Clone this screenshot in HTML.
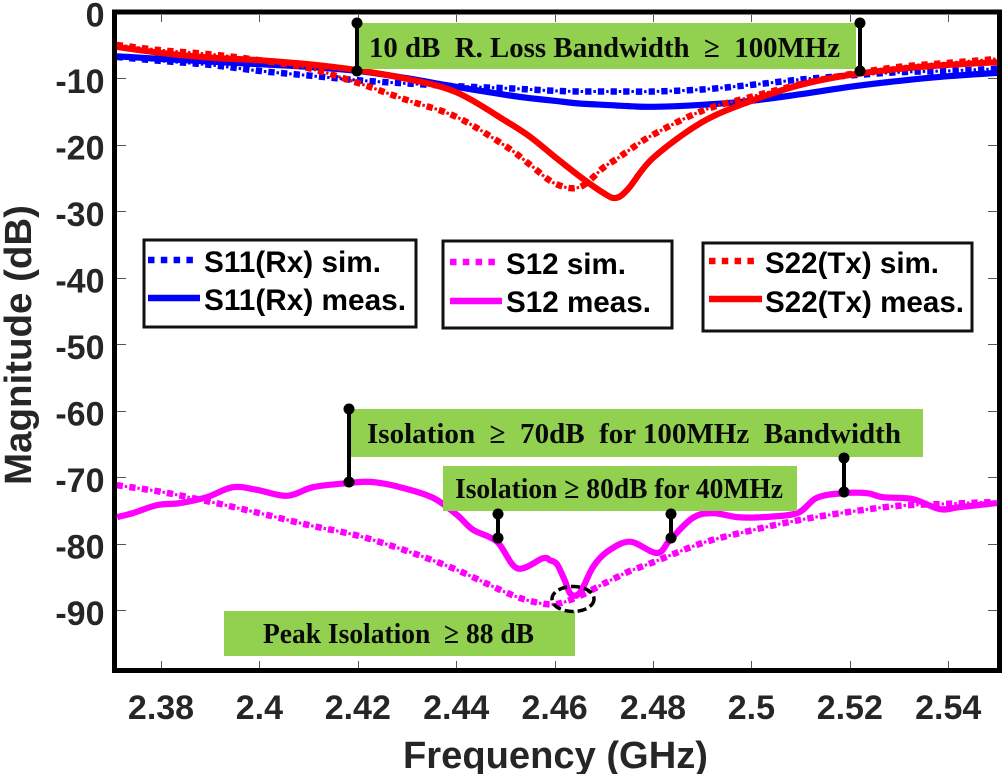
<!DOCTYPE html>
<html lang="en">
<head>
<meta charset="utf-8">
<title>S-parameter magnitude vs frequency</title>
<style>
html,body{margin:0;padding:0;background:#fff;}
body{width:1004px;height:774px;overflow:hidden;}
svg{display:block;}
.ax{font-family:"Liberation Sans",Arial,sans-serif;font-weight:700;fill:#262626;}
.lg{font-family:"Liberation Sans",Arial,sans-serif;font-weight:700;font-size:29.5px;fill:#000;}
.an{font-family:"Liberation Serif","Times New Roman",serif;font-weight:700;font-size:29px;fill:#0a0a0a;white-space:pre;}
</style>
</head>
<body>
<svg id="chart" xmlns="http://www.w3.org/2000/svg" width="1004" height="774" viewBox="0 0 1004 774">
  <defs>
    <clipPath id="plot-clip"><rect x="115" y="12" width="884" height="658"/></clipPath>
  </defs>
  <rect x="114" y="12" width="885" height="658" fill="#fff"/>
  <g id="ticks"></g>
  <g id="series" clip-path="url(#plot-clip)"></g>

  <g>
    <rect x="358" y="23" width="498" height="46" fill="#92d050"/>
    <text class="an" x="369" y="57" textLength="471" lengthAdjust="spacingAndGlyphs" xml:space="preserve">10 dB  R. Loss Bandwidth  ≥  100MHz</text>
  </g>
  <g>
    <rect x="351" y="409" width="572" height="48" fill="#92d050"/>
    <text class="an" x="367" y="443" textLength="534" lengthAdjust="spacingAndGlyphs" xml:space="preserve">Isolation  ≥  70dB  for 100MHz  Bandwidth</text>
  </g>
  <g>
    <rect x="443" y="466" width="354" height="45" fill="#92d050"/>
    <text class="an" x="455" y="498" textLength="328" lengthAdjust="spacingAndGlyphs" xml:space="preserve">Isolation ≥ 80dB for 40MHz</text>
  </g>
  <g>
    <rect x="224" y="611" width="351" height="45" fill="#92d050"/>
    <text class="an" x="263" y="643" textLength="271" lengthAdjust="spacingAndGlyphs" xml:space="preserve">Peak Isolation  ≥ 88 dB</text>
  </g>

  <g stroke="#000" stroke-width="4" fill="#000">
    <g><line x1="357" y1="23" x2="357" y2="71"/><circle cx="357" cy="23" r="5.5" stroke="none"/><circle cx="357" cy="71" r="5.5" stroke="none"/></g>
    <g><line x1="860" y1="23" x2="860" y2="71"/><circle cx="860" cy="23" r="5.5" stroke="none"/><circle cx="860" cy="71" r="5.5" stroke="none"/></g>
    <g><line x1="349" y1="409" x2="349" y2="482"/><circle cx="349" cy="409" r="5.5" stroke="none"/><circle cx="349" cy="482" r="5.5" stroke="none"/></g>
    <g><line x1="844" y1="458" x2="844" y2="492"/><circle cx="844" cy="458" r="5.5" stroke="none"/><circle cx="844" cy="492" r="5.5" stroke="none"/></g>
    <g><line x1="498" y1="514" x2="498" y2="538"/><circle cx="498" cy="514" r="5.5" stroke="none"/><circle cx="498" cy="538" r="5.5" stroke="none"/></g>
    <g><line x1="671" y1="514" x2="671" y2="538"/><circle cx="671" cy="514" r="5.5" stroke="none"/><circle cx="671" cy="538" r="5.5" stroke="none"/></g>
  </g>
  <ellipse cx="573" cy="599" rx="21" ry="12.5" fill="none" stroke="#000" stroke-width="3.5" stroke-dasharray="9 4"/>

  <g>
    <rect x="144" y="240" width="272" height="87" fill="#fff" stroke="#111" stroke-width="3"/>
    <line x1="148" y1="260" x2="193" y2="260" stroke="#0000ff" stroke-width="6.5" stroke-dasharray="6.5 6.3"/>
    <text class="lg" x="204" y="272" textLength="177" lengthAdjust="spacingAndGlyphs">S11(Rx) sim.</text>
    <line x1="148" y1="298" x2="200" y2="298" stroke="#0000ff" stroke-width="6.5"/>
    <text class="lg" x="204" y="310" textLength="202" lengthAdjust="spacingAndGlyphs">S11(Rx) meas.</text>
  </g>
  <g>
    <rect x="443" y="241" width="229" height="87" fill="#fff" stroke="#111" stroke-width="3"/>
    <line x1="450" y1="262" x2="495" y2="262" stroke="#ff00ff" stroke-width="6.5" stroke-dasharray="6.5 6.3"/>
    <text class="lg" x="506" y="274" textLength="120" lengthAdjust="spacingAndGlyphs">S12 sim.</text>
    <line x1="450" y1="301" x2="502" y2="301" stroke="#ff00ff" stroke-width="6.5"/>
    <text class="lg" x="506" y="312" textLength="145" lengthAdjust="spacingAndGlyphs">S12 meas.</text>
  </g>
  <g>
    <rect x="703" y="243" width="269" height="88" fill="#fff" stroke="#111" stroke-width="3"/>
    <line x1="709" y1="261" x2="755" y2="261" stroke="#ff0000" stroke-width="6.5" stroke-dasharray="6.5 6.3"/>
    <text class="lg" x="765" y="273" textLength="174" lengthAdjust="spacingAndGlyphs">S22(Tx) sim.</text>
    <line x1="709" y1="299" x2="762" y2="299" stroke="#ff0000" stroke-width="6.5"/>
    <text class="lg" x="765" y="312" textLength="199" lengthAdjust="spacingAndGlyphs">S22(Tx) meas.</text>
  </g>

  <rect x="114.5" y="12" width="885" height="658.5" fill="none" stroke="#000" stroke-width="5"/>
  <g id="tick-labels"></g>
  <text class="ax" x="403" y="768" font-size="38" textLength="305" lengthAdjust="spacingAndGlyphs">Frequency (GHz)</text>
  <text class="ax" transform="translate(31,485) rotate(-90)" font-size="38" textLength="280" lengthAdjust="spacingAndGlyphs">Magnitude (dB)</text>
</svg>
<script>
const xTickValues = [2.38, 2.4, 2.42, 2.44, 2.46, 2.48, 2.5, 2.52, 2.54];
const yTickValues = [0, -10, -20, -30, -40, -50, -60, -70, -80, -90];

const freqGrid = [2.371, 2.38, 2.39, 2.40, 2.41, 2.42, 2.43, 2.44, 2.45, 2.455, 2.46, 2.465, 2.47, 2.4725, 2.475, 2.48, 2.49, 2.50, 2.51, 2.52, 2.53, 2.54, 2.55];
const s11Sim = [-6.8, -7.4, -8, -8.9, -9.6, -10.3, -10.8, -11.2, -11.5, -11.7, -11.9, -12, -12, -12, -12, -12, -11.7, -11, -10.2, -9.6, -9.1, -8.9, -8.6];
const s11Meas = [-6.7, -7.1, -7.5, -7.9, -8.3, -8.9, -10, -11.3, -12.5, -13, -13.4, -13.8, -14, -14.1, -14.2, -14.3, -14, -13.4, -12.4, -11.3, -10.4, -9.7, -9.2];
const s22Sim = [-5, -5.8, -6.4, -7.3, -8.5, -10.7, -13.3, -15.8, -20.2, -23, -25.8, -26.4, -23.4, -22.2, -20.9, -18.5, -14.9, -12.8, -10.9, -9.4, -8.3, -7.7, -7.1];
const s22Meas = [-5.3, -6.2, -6.9, -7.3, -7.9, -8.8, -10.1, -12.1, -16.4, -18.8, -21.8, -24.7, -27.3, -28, -26.6, -22, -16.6, -13.4, -11, -9.5, -8.6, -8, -7.6];
const s12Sim = [-71.2, -72.2, -73.7, -75.4, -77.2, -78.8, -81.1, -83.9, -87.3, -88.6, -89.1, -87.9, -86, -85.1, -84.2, -82.8, -79.9, -78, -76.4, -75.2, -74.3, -74, -73.7];

const s12MeasFreq = [2.3711, 2.3743, 2.3792, 2.3839, 2.3893, 2.3946, 2.3995, 2.4056, 2.4109, 2.4178, 2.4225, 2.4286, 2.4353, 2.4402, 2.4434, 2.4483, 2.4524, 2.4576, 2.4591, 2.4605, 2.462, 2.4633, 2.4652, 2.4678, 2.4707, 2.4753, 2.4808, 2.4835, 2.4881, 2.4922, 2.4971, 2.5024, 2.5093, 2.5133, 2.5186, 2.5235, 2.5267, 2.5328, 2.5383, 2.5424, 2.5499];
const s12Meas = [-76, -75.4, -74.2, -73.9, -73, -71.5, -71.9, -72.8, -71.5, -70.9, -70.7, -71.5, -73.1, -75.7, -77.9, -79.7, -83.7, -82.2, -82.5, -83.1, -85.4, -87.6, -87.3, -83.5, -81.2, -79.7, -81.4, -79.4, -76.1, -75.4, -76, -76, -75.4, -73.1, -72.4, -72.4, -73, -73.3, -74.8, -74.5, -73.9];

const NS = 'http://www.w3.org/2000/svg';
function xScale(f) { return 161 + (f - 2.38) * 4920; }
function yScale(v) { return 11.7 - v * 6.65; }

function smoothPath(freqs, vals) {
  const p = freqs.map(function (f, i) { return [xScale(f), yScale(vals[i])]; });
  let d = 'M' + p[0][0].toFixed(1) + ' ' + p[0][1].toFixed(1);
  for (let i = 0; i < p.length - 1; i++) {
    const a = p[Math.max(i - 1, 0)], b = p[i], c = p[i + 1], e = p[Math.min(i + 2, p.length - 1)];
    const c1x = b[0] + (c[0] - a[0]) / 6, c1y = b[1] + (c[1] - a[1]) / 6;
    const c2x = c[0] - (e[0] - b[0]) / 6, c2y = c[1] - (e[1] - b[1]) / 6;
    d += 'C' + c1x.toFixed(1) + ' ' + c1y.toFixed(1) + ' ' + c2x.toFixed(1) + ' ' + c2y.toFixed(1) + ' ' + c[0].toFixed(1) + ' ' + c[1].toFixed(1);
  }
  return d;
}

const seriesGroup = document.getElementById('series');
function addSolid(name, freqs, vals, color) {
  const path = document.createElementNS(NS, 'path');
  
  
  path.setAttribute('d', smoothPath(freqs, vals));
  path.setAttribute('fill', 'none');
  path.setAttribute('stroke', color);
  path.setAttribute('stroke-width', '6.2');
  seriesGroup.appendChild(path);
}
function addSim(name, freqs, vals, color) {
  const squares = document.createElementNS(NS, 'path');
  
  
  squares.setAttribute('d', smoothPath(freqs, vals));
  squares.setAttribute('fill', 'none');
  squares.setAttribute('stroke', color);
  squares.setAttribute('stroke-width', '6.5');
  squares.setAttribute('stroke-dasharray', '6.3 6.4');
  seriesGroup.appendChild(squares);
  const dots = document.createElementNS(NS, 'path');
  
  
  dots.setAttribute('d', smoothPath(freqs, vals));
  dots.setAttribute('fill', 'none');
  dots.setAttribute('stroke', color);
  dots.setAttribute('stroke-width', '3');
  dots.setAttribute('stroke-dasharray', '2.5 10.2');
  dots.setAttribute('stroke-dashoffset', '-8.2');
  seriesGroup.appendChild(dots);
}
addSim('s11-sim-line', freqGrid, s11Sim, '#0000ff');
addSolid('s11-meas-line', freqGrid, s11Meas, '#0000ff');
addSim('s22-sim-line', freqGrid, s22Sim, '#ff0000');
addSolid('s22-meas-line', freqGrid, s22Meas, '#ff0000');
addSim('s12-sim-line', freqGrid, s12Sim, '#ff00ff');
addSolid('s12-meas-line', s12MeasFreq, s12Meas, '#ff00ff');

const tickGroup = document.getElementById('ticks');
const labelGroup = document.getElementById('tick-labels');
function addTick(x1, y1, x2, y2) {
  const t = document.createElementNS(NS, 'line');
  
  
  t.setAttribute('x1', x1);
  t.setAttribute('y1', y1);
  t.setAttribute('x2', x2);
  t.setAttribute('y2', y2);
  t.setAttribute('stroke', '#555');
  t.setAttribute('stroke-width', '1');
  tickGroup.appendChild(t);
}
function addLabel(name, str, x, y, anchor) {
  const t = document.createElementNS(NS, 'text');
  
  
  t.setAttribute('class', 'ax');
  t.setAttribute('x', x);
  t.setAttribute('y', y);
  t.setAttribute('font-size', '34');
  t.setAttribute('text-anchor', anchor);
  t.textContent = str;
  labelGroup.appendChild(t);
}
xTickValues.forEach(function (f) {
  const x = Math.round(xScale(f)) + 0.5;
  addTick(x, 15, x, 22);
  addTick(x, 661, x, 668);
  addLabel('x-tick-label', String(f), xScale(f), 719, 'middle');
});
yTickValues.forEach(function (v) {
  const y = Math.round(yScale(v)) + 0.5;
  if (v !== 0) {
    addTick(117, y, 126, y);
    addTick(988, y, 997, y);
  }
  addLabel('y-tick-label', String(v), 104.5, yScale(v) + 15, 'end');
});
</script>
</body>
</html>
